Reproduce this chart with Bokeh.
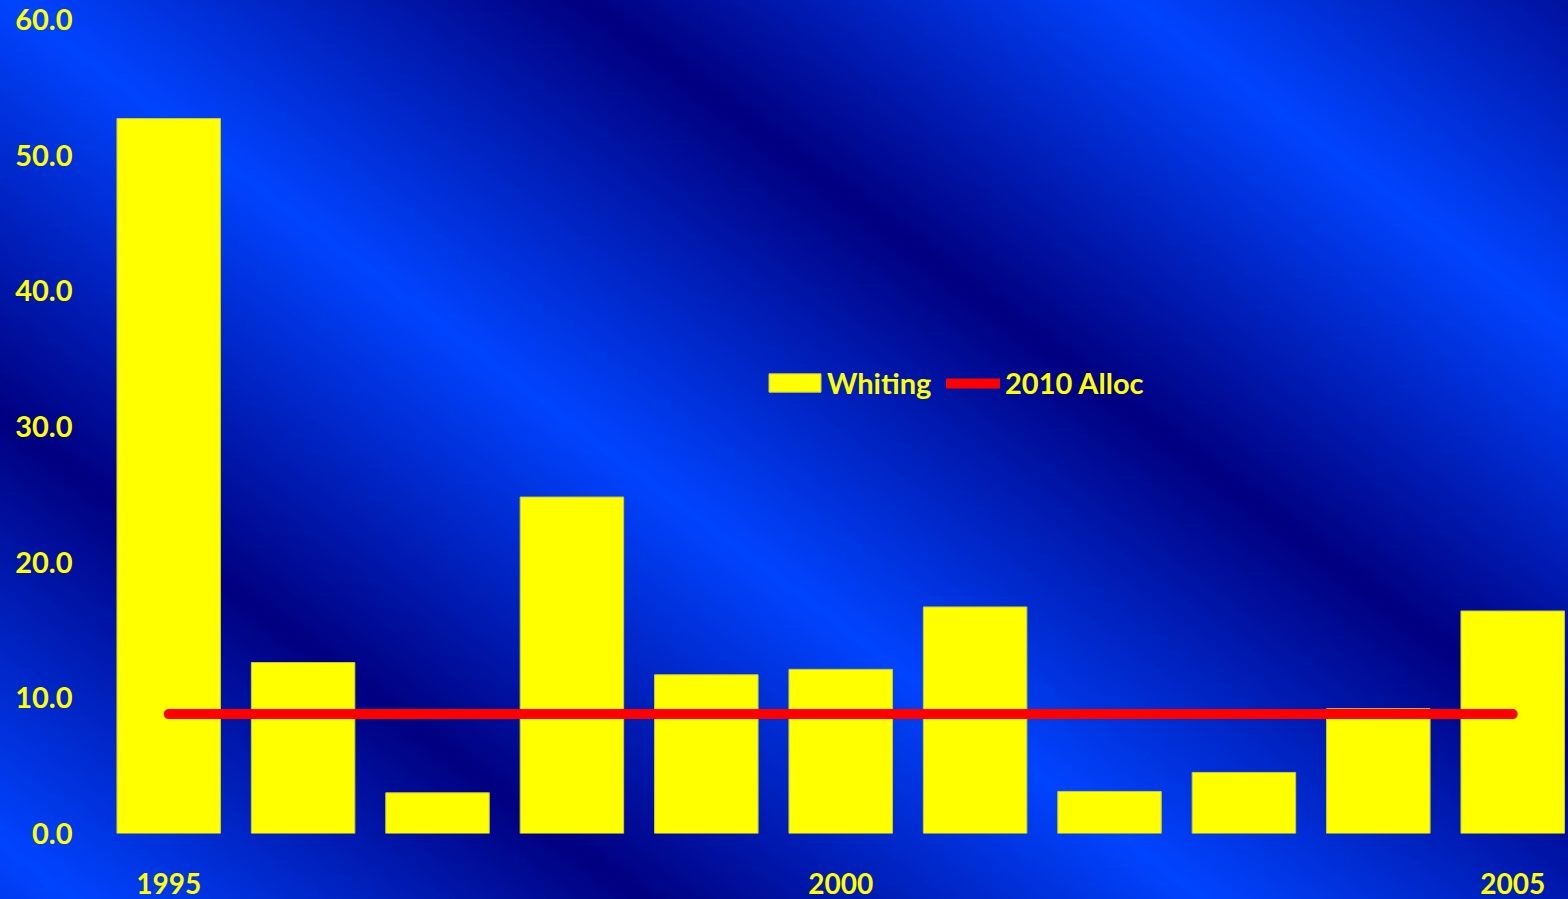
from bokeh.plotting import figure
from bokeh.models import (ColumnDataSource, Legend, LegendItem, FixedTicker,
                          NumeralTickFormatter, GlobalInlineStyleSheet, Range1d)
from bokeh.embed import file_html
from bokeh.resources import INLINE

# ---- data ----
years = [1995, 1996, 1997, 1998, 1999, 2000, 2001, 2002, 2003, 2004, 2005]
whiting = [52.7, 12.6, 3.0, 24.8, 11.7, 12.1, 16.7, 3.1, 4.5, 9.2, 16.4]
alloc_2010 = [8.8, 8.8, 8.8, 8.8, 8.8, 8.8, 8.8, 8.8, 8.8, 8.8, 8.8]
y_ticks = [0, 10, 20, 30, 40, 50, 60]
x_ticks = [1995, 2000, 2005]

src = ColumnDataSource(dict(year=years, whiting=whiting, alloc=alloc_2010))

YELLOW = "#FFFF00"
FONT = "Lato"

bg_css = """
html {
  background: linear-gradient(36.9deg, #000080 -18%, #0044ff 2.7%, #000080 23.2%,
              #0044ff 43.6%, #000080 64.4%, #0044ff 84.2%, #000080 105%) fixed;
  min-height: 100%;
}
body { background: transparent; }
"""

p = figure(width=1568, height=899, output_backend="svg", toolbar_location=None,
           tools="", x_range=Range1d(1994.5, 2005.415), y_range=Range1d(0, 60),
           min_border_left=101, min_border_right=0, min_border_top=19,
           min_border_bottom=66)
p.stylesheets = [GlobalInlineStyleSheet(css=bg_css)]

p.background_fill_alpha = 0
p.border_fill_alpha = 0
p.outline_line_color = None
p.grid.visible = False

bars = p.vbar(x="year", top="whiting", width=0.77, bottom=0, source=src,
              fill_color=YELLOW, line_color="#c8c840", line_width=1)
line = p.line(x="year", y="alloc", source=src, line_color="#FF0000",
              line_width=10, line_cap="round")

# axes
p.yaxis.ticker = FixedTicker(ticks=y_ticks)
p.yaxis.formatter = NumeralTickFormatter(format="0.0")
p.xaxis.ticker = FixedTicker(ticks=x_ticks)
for ax in (p.xaxis, p.yaxis):
    ax.axis_line_color = None
    ax.major_tick_line_color = None
    ax.minor_tick_line_color = None
    ax.major_tick_out = 0
    ax.major_tick_in = 0
    ax.major_label_text_color = YELLOW
    ax.major_label_text_font = FONT
    ax.major_label_text_font_style = "bold"
p.yaxis.major_label_text_font_size = "29px"
p.xaxis.major_label_text_font_size = "28px"
p.yaxis.major_label_standoff = 29
p.xaxis.major_label_standoff = 39

common = dict(orientation="horizontal", background_fill_alpha=0,
              border_line_color=None, label_text_color=YELLOW,
              label_text_font=FONT, label_text_font_style="bold",
              label_text_font_size="29px", padding=0, margin=0, spacing=0)

legend_bar = Legend(items=[LegendItem(label="Whiting", renderers=[bars])],
                    location=(661, 433), glyph_width=65, glyph_height=23,
                    label_standoff=0, **common)
legend_line = Legend(items=[LegendItem(label="2010 Alloc", renderers=[line])],
                     location=(845, 433), glyph_width=54, glyph_height=18,
                     label_standoff=5, **common)
p.add_layout(legend_bar, "center")
p.add_layout(legend_line, "center")

open("out.html", "w").write(file_html(p, INLINE))
